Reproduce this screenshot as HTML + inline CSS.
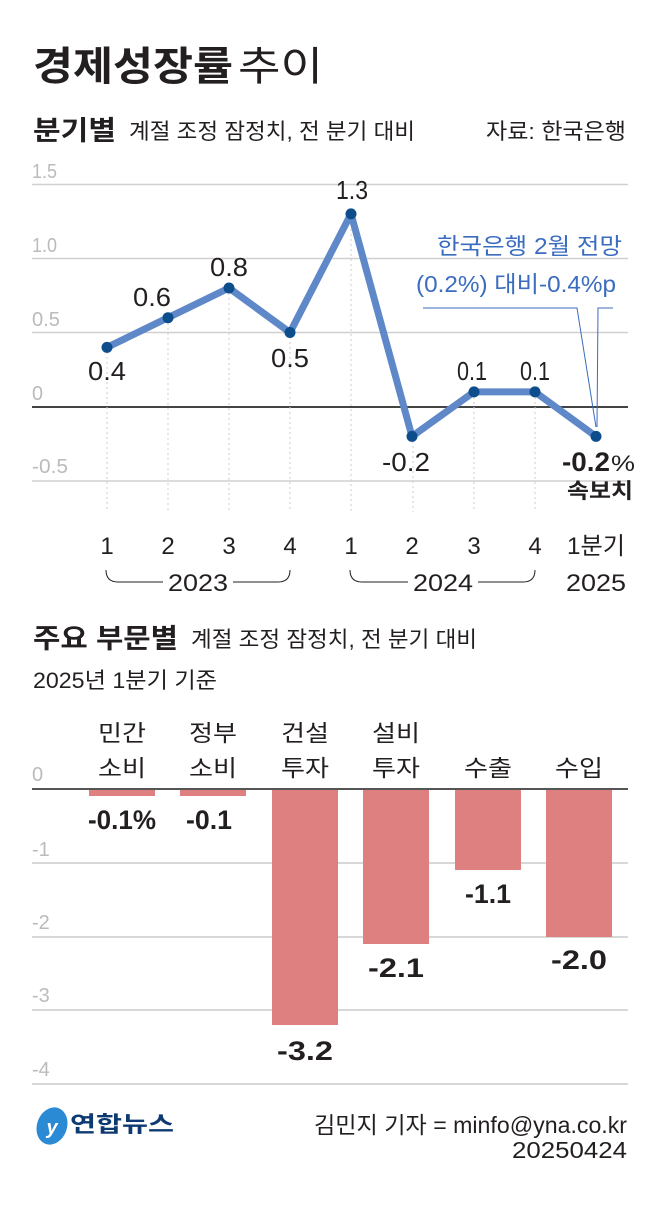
<!DOCTYPE html>
<html><head><meta charset="utf-8"><style>
html,body{margin:0;padding:0;background:#fff;}
svg{display:block;}
text{font-family:"Liberation Sans","Noto Sans CJK KR",sans-serif;}
</style></head><body>
<svg width="655" height="1230" viewBox="0 0 655 1230" xmlns="http://www.w3.org/2000/svg">
<rect width="655" height="1230" fill="#fff"/>
<text x="33" y="80" font-size="40" font-weight="bold" fill="#231f20" textLength="200" lengthAdjust="spacingAndGlyphs">경제성장률</text>
<text x="238" y="80" font-size="40" fill="#231f20" textLength="85" lengthAdjust="spacingAndGlyphs">추이</text>
<text x="33" y="140" font-size="27" font-weight="bold" fill="#231f20" textLength="83" lengthAdjust="spacingAndGlyphs">분기별</text>
<text x="129" y="139" font-size="22" fill="#231f20" textLength="286" lengthAdjust="spacingAndGlyphs">계절 조정 잠정치, 전 분기 대비</text>
<text x="486" y="139" font-size="22" fill="#231f20" textLength="140" lengthAdjust="spacingAndGlyphs">자료: 한국은행</text>

<g stroke="#d0d0d0" stroke-width="1.5">
<line x1="32" y1="184.5" x2="628" y2="184.5"/>
<line x1="32" y1="258.5" x2="628" y2="258.5"/>
<line x1="32" y1="332.5" x2="628" y2="332.5"/>
<line x1="32" y1="481" x2="628" y2="481"/>
</g>
<line x1="32" y1="407" x2="628" y2="407" stroke="#444" stroke-width="2"/>
<g font-size="20" fill="#bbb">
<text x="32" y="178" textLength="25" lengthAdjust="spacingAndGlyphs">1.5</text>
<text x="32" y="252" textLength="25" lengthAdjust="spacingAndGlyphs">1.0</text>
<text x="32" y="326" textLength="28" lengthAdjust="spacingAndGlyphs">0.5</text>
<text x="32" y="400" textLength="11" lengthAdjust="spacingAndGlyphs">0</text>
<text x="32" y="473" textLength="36" lengthAdjust="spacingAndGlyphs">-0.5</text>
</g>
<g stroke="#ccc" stroke-width="1" stroke-dasharray="2,3">
<line x1="107" y1="347" x2="107" y2="512"/>
<line x1="168" y1="318" x2="168" y2="512"/>
<line x1="229" y1="288" x2="229" y2="512"/>
<line x1="290" y1="332" x2="290" y2="512"/>
<line x1="351" y1="214" x2="351" y2="512"/>
<line x1="413" y1="436" x2="413" y2="512"/>
<line x1="474" y1="392" x2="474" y2="512"/>
<line x1="535" y1="392" x2="535" y2="512"/>
</g>
<text x="622" y="254" font-size="23" fill="#3a6cc0" text-anchor="end" textLength="185" lengthAdjust="spacingAndGlyphs">한국은행 2월 전망</text>
<text x="616" y="292" font-size="23" fill="#3a6cc0" text-anchor="end" textLength="200" lengthAdjust="spacingAndGlyphs">(0.2%) 대비-0.4%p</text>
<polyline points="423,308 577,308 596,427" fill="none" stroke="#3a6cc0" stroke-width="1"/>
<polyline points="613,308 598,308 597,427" fill="none" stroke="#3a6cc0" stroke-width="1"/>
<polyline points="107,347.4 168,317.7 229,288 290,332.5 351,213.9 412,436.4 474,391.9 535,391.9 596,436.4" fill="none" stroke="#5f88c8" stroke-width="7" stroke-linejoin="round"/>
<g fill="#0d4d8c">
<circle cx="107" cy="347.4" r="5.5"/><circle cx="168" cy="317.7" r="5.5"/><circle cx="229" cy="288" r="5.5"/><circle cx="290" cy="332.5" r="5.5"/><circle cx="351" cy="213.9" r="5.5"/><circle cx="412" cy="436.4" r="5.5"/><circle cx="474" cy="391.9" r="5.5"/><circle cx="535" cy="391.9" r="5.5"/><circle cx="596" cy="436.4" r="5.5"/>
</g>
<g font-size="26" fill="#231f20" text-anchor="middle">
<text x="107" y="380" textLength="38" lengthAdjust="spacingAndGlyphs">0.4</text>
<text x="152" y="306" textLength="38" lengthAdjust="spacingAndGlyphs">0.6</text>
<text x="229" y="276" textLength="38" lengthAdjust="spacingAndGlyphs">0.8</text>
<text x="290" y="367" textLength="38" lengthAdjust="spacingAndGlyphs">0.5</text>
<text x="352" y="199" textLength="32" lengthAdjust="spacingAndGlyphs">1.3</text>
<text x="406" y="471" textLength="48" lengthAdjust="spacingAndGlyphs">-0.2</text>
<text x="472" y="380" textLength="30" lengthAdjust="spacingAndGlyphs">0.1</text>
<text x="535" y="380" textLength="30" lengthAdjust="spacingAndGlyphs">0.1</text>
</g>
<text x="562" y="471" font-size="27" font-weight="bold" fill="#231f20" textLength="48" lengthAdjust="spacingAndGlyphs">-0.2</text>
<text x="611" y="471" font-size="22" fill="#231f20" textLength="24" lengthAdjust="spacingAndGlyphs">%</text>
<text x="600" y="498" font-size="21" font-weight="bold" fill="#231f20" text-anchor="middle" textLength="66" lengthAdjust="spacingAndGlyphs">속보치</text>
<g font-size="24" fill="#231f20" text-anchor="middle">
<text x="107" y="554">1</text><text x="168" y="554">2</text><text x="229" y="554">3</text><text x="290" y="554">4</text>
<text x="351" y="554">1</text><text x="412" y="554">2</text><text x="474" y="554">3</text><text x="535" y="554">4</text>
<text x="596" y="554" textLength="58" lengthAdjust="spacingAndGlyphs">1분기</text>
<text x="198" y="591" textLength="60" lengthAdjust="spacingAndGlyphs">2023</text>
<text x="443" y="591" textLength="60" lengthAdjust="spacingAndGlyphs">2024</text>
<text x="596" y="591" textLength="60" lengthAdjust="spacingAndGlyphs">2025</text>
</g>
<g fill="none" stroke="#231f20" stroke-width="1">
<path d="M106,570 Q106,582 118,582 L163,582"/><path d="M233,582 L278,582 Q290,582 290,570"/>
<path d="M350,570 Q350,582 362,582 L408,582"/><path d="M478,582 L523,582 Q535,582 535,570"/>
</g>
<text x="33" y="648" font-size="27" font-weight="bold" fill="#231f20" textLength="145" lengthAdjust="spacingAndGlyphs">주요 부문별</text>
<text x="191" y="647" font-size="22" fill="#231f20" textLength="286" lengthAdjust="spacingAndGlyphs">계절 조정 잠정치, 전 분기 대비</text>
<text x="33" y="688" font-size="22" fill="#231f20" textLength="184" lengthAdjust="spacingAndGlyphs">2025년 1분기 기준</text>

<g font-size="23" fill="#231f20" text-anchor="middle">
<text x="122" y="741" textLength="48" lengthAdjust="spacingAndGlyphs">민간</text><text x="122" y="776" textLength="48" lengthAdjust="spacingAndGlyphs">소비</text>
<text x="213" y="741" textLength="48" lengthAdjust="spacingAndGlyphs">정부</text><text x="213" y="776" textLength="48" lengthAdjust="spacingAndGlyphs">소비</text>
<text x="305" y="741" textLength="48" lengthAdjust="spacingAndGlyphs">건설</text><text x="305" y="776" textLength="48" lengthAdjust="spacingAndGlyphs">투자</text>
<text x="396" y="741" textLength="48" lengthAdjust="spacingAndGlyphs">설비</text><text x="396" y="776" textLength="48" lengthAdjust="spacingAndGlyphs">투자</text>
<text x="488" y="776" textLength="48" lengthAdjust="spacingAndGlyphs">수출</text>
<text x="579" y="776" textLength="48" lengthAdjust="spacingAndGlyphs">수입</text>
</g>
<g stroke="#ccc" stroke-width="1.5">
<line x1="32" y1="863" x2="628" y2="863"/><line x1="32" y1="937" x2="628" y2="937"/>
<line x1="32" y1="1010" x2="628" y2="1010"/><line x1="32" y1="1084" x2="628" y2="1084"/>
</g>
<g font-size="20" fill="#bbb">
<text x="32" y="781">0</text><text x="32" y="856">-1</text><text x="32" y="929">-2</text><text x="32" y="1002">-3</text><text x="32" y="1076">-4</text>
</g>
<g fill="#df8080">
<rect x="89" y="789" width="66" height="7"/>
<rect x="180" y="789" width="66" height="7"/>
<rect x="272" y="789" width="66" height="236"/>
<rect x="363" y="789" width="66" height="155"/>
<rect x="455" y="789" width="66" height="81"/>
<rect x="546" y="789" width="66" height="148"/>
</g>
<line x1="32" y1="789" x2="628" y2="789" stroke="#555" stroke-width="2"/>
<g font-size="27" font-weight="bold" fill="#231f20" text-anchor="middle">
<text x="122" y="829" textLength="68" lengthAdjust="spacingAndGlyphs">-0.1%</text>
<text x="209" y="829" textLength="46" lengthAdjust="spacingAndGlyphs">-0.1</text>
<text x="305" y="1060" textLength="56" lengthAdjust="spacingAndGlyphs">-3.2</text>
<text x="396" y="977" textLength="56" lengthAdjust="spacingAndGlyphs">-2.1</text>
<text x="488" y="903" textLength="46" lengthAdjust="spacingAndGlyphs">-1.1</text>
<text x="579" y="969" textLength="56" lengthAdjust="spacingAndGlyphs">-2.0</text>
</g>
<ellipse cx="52" cy="1126" rx="15" ry="19" fill="#2a8ad4" transform="rotate(20 52 1126)"/>
<text x="52" y="1134" font-size="20" font-style="italic" font-weight="bold" fill="#fff" text-anchor="middle">y</text>
<text x="70" y="1132" font-size="22" font-weight="bold" fill="#0d3a70" textLength="104" lengthAdjust="spacingAndGlyphs">연합뉴스</text>
<text x="627" y="1133" font-size="23" fill="#231f20" text-anchor="end" textLength="313" lengthAdjust="spacingAndGlyphs">김민지 기자 = minfo@yna.co.kr</text>
<text x="627" y="1158" font-size="23" fill="#231f20" text-anchor="end" textLength="115" lengthAdjust="spacingAndGlyphs">20250424</text>
</svg>
</body></html>
